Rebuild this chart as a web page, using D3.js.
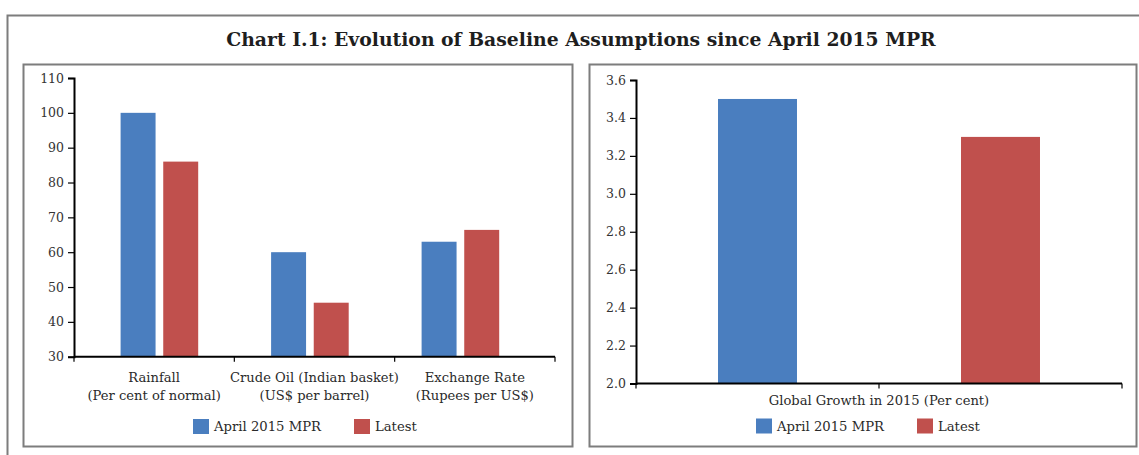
<!DOCTYPE html>
<html>
<head>
<meta charset="utf-8">
<script src="https://cdn.jsdelivr.net/npm/d3@7"></script>
<style>
  html, body { margin: 0; padding: 0; background: #fff; }
  svg { display: block; }
  text { font-family: "DejaVu Serif", "Liberation Serif", serif; fill: #2a2a2a; }
</style>
</head>
<body>
<svg id="chart" width="1139" height="455"></svg>
<script>
// ---- data ----
const title = "Chart I.1: Evolution of Baseline Assumptions since April 2015 MPR";
const series = ["April 2015 MPR", "Latest"];
const colors = ["#4a7ebf", "#c0504d"];
const leftCategories = ["Rainfall", "Crude Oil", "Exchange Rate"];
const leftCategoryLines = [
  ["Rainfall", "(Per cent of normal)"],
  ["Crude Oil (Indian basket)", "(US$ per barrel)"],
  ["Exchange Rate", "(Rupees per US$)"]
];
const aprilValues = [100, 60, 63];
const latestValues = [86, 45.5, 66.4];
const leftTicks = [30, 40, 50, 60, 70, 80, 90, 100, 110];

const rightCategory = "Global Growth in 2015 (Per cent)";
const globalValues = [3.5, 3.3];
const rightTicks = [2.0, 2.2, 2.4, 2.6, 2.8, 3.0, 3.2, 3.4, 3.6];

// ---- drawing ----
const svg = d3.select("#chart");

// outer frame
svg.append("rect").attr("x", 7.5).attr("y", 15.5).attr("width", 1145).attr("height", 460)
  .attr("fill", "none").attr("stroke", "#7d7d7d").attr("stroke-width", 2);

svg.append("text").attr("x", 581).attr("y", 46).attr("text-anchor", "middle")
  .style("font-weight", "bold").style("font-size", "18.8px").style("fill", "#1e1e1e")
  .text(title);

// panel frames
svg.append("rect").attr("x", 23.5).attr("y", 64.5).attr("width", 549).attr("height", 382)
  .attr("fill", "none").attr("stroke", "#7d7d7d").attr("stroke-width", 2);
svg.append("rect").attr("x", 589.5).attr("y", 64.5).attr("width", 547).attr("height", 382)
  .attr("fill", "none").attr("stroke", "#7d7d7d").attr("stroke-width", 2);

function styleAxis(g) {
  g.select(".domain").attr("stroke", "#000").attr("stroke-width", 2);
  g.selectAll(".tick line").attr("stroke", "#000").attr("stroke-width", 1.2);
  g.selectAll(".tick text").style("font-size", "12.5px").style("fill", "#333")
    .style("font-family", '"DejaVu Serif", serif');
}

function legend(x0, yc) {
  const lg = svg.append("g");
  series.forEach((s, i) => {
    const gx = x0 + i * 161;
    lg.append("rect").attr("x", gx).attr("y", yc - 7.5).attr("width", 16).attr("height", 15)
      .attr("fill", colors[i]);
    lg.append("text").attr("x", gx + 21).attr("y", yc).attr("dy", "0.35em")
      .style("font-size", "13.2px").text(s);
  });
}

// ---- left panel ----
const yL = d3.scaleLinear().domain([30, 110]).range([356.7, 78]);
const xAxisL = d3.scaleBand().domain(leftCategories).range([74, 555]);
const xBarL = d3.scaleBand().domain(leftCategories).range([84.15, 535.65]);
const xSubL = d3.scaleBand().domain(series).range([0, xBarL.bandwidth()])
  .paddingInner(0.18).paddingOuter(0.855);

const leftData = leftCategories.map((c, i) => ({ c, vals: [aprilValues[i], latestValues[i]] }));
const gL = svg.append("g");
gL.selectAll("g.grp").data(leftData).join("g").attr("class", "grp")
  .attr("transform", d => `translate(${xBarL(d.c)},0)`)
  .selectAll("rect").data(d => d.vals.map((v, k) => ({ s: series[k], v, k })))
  .join("rect")
  .attr("x", d => xSubL(d.s)).attr("width", xSubL.bandwidth())
  .attr("y", d => yL(d.v)).attr("height", d => yL(30) - yL(d.v))
  .attr("fill", d => colors[d.k]);

const yAxL = gL.append("g").attr("transform", "translate(74,0)")
  .call(d3.axisLeft(yL).tickValues(leftTicks).tickSize(6).tickPadding(4).tickFormat(d3.format("d")));
styleAxis(yAxL);

// x axis line + boundary ticks
gL.append("line").attr("x1", 74).attr("x2", 555).attr("y1", yL(30)).attr("y2", yL(30))
  .attr("stroke", "#000").attr("stroke-width", 2);
const bL = leftCategories.map(c => xAxisL(c)).concat([xAxisL.range()[1]]);
gL.selectAll("line.bt").data(bL).join("line").attr("class", "bt")
  .attr("x1", d => d).attr("x2", d => d).attr("y1", yL(30)).attr("y2", yL(30) + 5)
  .attr("stroke", "#000").attr("stroke-width", 1.2);

gL.selectAll("text.cat").data(leftCategoryLines).join("text").attr("class", "cat")
  .attr("text-anchor", "middle").style("font-size", "13.1px")
  .attr("transform", (d, i) => `translate(${xAxisL(leftCategories[i]) + xAxisL.bandwidth() / 2},0)`)
  .selectAll("tspan").data(d => d).join("tspan")
  .attr("x", 0).attr("y", (d, j) => 377 + j * 18.5).attr("dy", "0.35em").text(d => d);

legend(193, 426.5);

// ---- right panel ----
const yR = d3.scaleLinear().domain([2.0, 3.6]).range([383.5, 80]);
const xR = d3.scaleBand().domain(series).range([636, 1122]).paddingInner(0.675).paddingOuter(0.3375);
const gR = svg.append("g");
gR.selectAll("rect").data(globalValues).join("rect")
  .attr("x", (d, i) => xR(series[i])).attr("width", xR.bandwidth())
  .attr("y", d => yR(d)).attr("height", d => yR(2.0) - yR(d))
  .attr("fill", (d, i) => colors[i]);

const yAxR = gR.append("g").attr("transform", "translate(636,0)")
  .call(d3.axisLeft(yR).tickValues(rightTicks).tickSize(6).tickPadding(4).tickFormat(d3.format(".1f")));
styleAxis(yAxR);

gR.append("line").attr("x1", 636).attr("x2", 1122).attr("y1", yR(2.0)).attr("y2", yR(2.0))
  .attr("stroke", "#000").attr("stroke-width", 2);
const bR = [636, (636 + 1122) / 2, 1122];
gR.selectAll("line.bt").data(bR).join("line").attr("class", "bt")
  .attr("x1", d => d).attr("x2", d => d).attr("y1", yR(2.0)).attr("y2", yR(2.0) + 5)
  .attr("stroke", "#000").attr("stroke-width", 1.2);

gR.append("text").attr("x", 879).attr("y", 400).attr("dy", "0.35em").attr("text-anchor", "middle")
  .style("font-size", "13.1px").text(rightCategory);

legend(756, 426);
</script>
</body>
</html>
